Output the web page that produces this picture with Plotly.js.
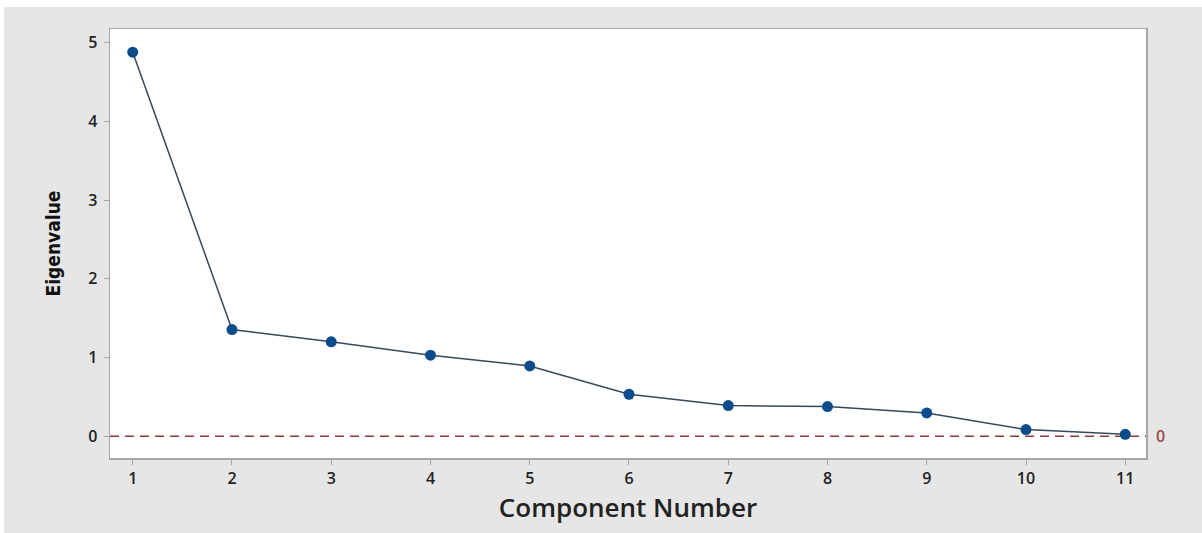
<!DOCTYPE html>
<html>
<head>
<meta charset="utf-8">
<script src="https://cdn.plot.ly/plotly-3.0.1.min.js"></script>
<style>
  html, body { margin: 0; padding: 0; background: #ffffff; overflow: hidden; }
  #chart { position: absolute; left: 4px; top: 7px; width: 1198px; height: 526px; }
</style>
</head>
<body>
<div id="chart"></div>
<script>
const components = [1, 2, 3, 4, 5, 6, 7, 8, 9, 10, 11];
const eigenvalues = [4.88, 1.356, 1.20, 1.03, 0.893, 0.534, 0.39, 0.377, 0.296, 0.085, 0.025];
const xTicks = [1, 2, 3, 4, 5, 6, 7, 8, 9, 10, 11];
const yTicks = [0, 1, 2, 3, 4, 5];
const refValue = 0;
const refLabel = "0";

const trace = {
  x: components,
  y: eigenvalues,
  type: 'scatter',
  mode: 'lines+markers',
  line: { color: '#34495a', width: 1.5 },
  marker: { color: '#0d4c8b', size: 11, symbol: 'circle' },
  hoverinfo: 'x+y'
};

const axisCommon = {
  showline: true,
  linecolor: '#a6a6a6',
  linewidth: 1.5,
  mirror: true,
  showgrid: false,
  zeroline: false,
  ticks: 'outside',
  ticklen: 5,
  tickwidth: 1,
  tickcolor: '#a6a6a6',
  tickfont: { family: 'Open Sans, sans-serif', size: 16, color: '#222222', weight: 600 }
};

const layout = {
  width: 1198,
  height: 526,
  margin: { l: 106, r: 56, t: 22, b: 75 },
  paper_bgcolor: '#e6e6e6',
  plot_bgcolor: '#ffffff',
  showlegend: false,
  xaxis: Object.assign({}, axisCommon, {
    range: [0.771, 11.209],
    tickvals: xTicks,
    ticktext: xTicks.map(String),
    title: { text: 'Component Number', standoff: 6,
      font: { family: 'Open Sans, sans-serif', size: 26, color: '#222222', weight: 600 } }
  }),
  yaxis: Object.assign({}, axisCommon, {
    range: [-0.276, 5.174],
    tickvals: yTicks,
    ticktext: yTicks.map(String),
    ticklabelstandoff: 3,
    title: { text: 'Eigenvalue', standoff: 22,
      font: { family: 'DejaVu Sans Condensed, sans-serif', size: 19, color: '#111111', weight: 'bold' } }
  }),
  shapes: [{
    type: 'line', xref: 'paper', x0: 0, x1: 1, yref: 'y', y0: refValue, y1: refValue,
    line: { color: '#8b3a3a', width: 1.3, dash: '9px,6px' }, layer: 'below'
  }],
  annotations: [{
    xref: 'paper', x: 1, xanchor: 'left', xshift: 8,
    yref: 'y', y: refValue, yanchor: 'middle',
    text: refLabel, showarrow: false,
    font: { family: 'Open Sans, sans-serif', size: 16, color: '#a04848', weight: 600 }
  }]
};

Plotly.newPlot('chart', [trace], layout, { displayModeBar: false, staticPlot: true });
</script>
</body>
</html>
